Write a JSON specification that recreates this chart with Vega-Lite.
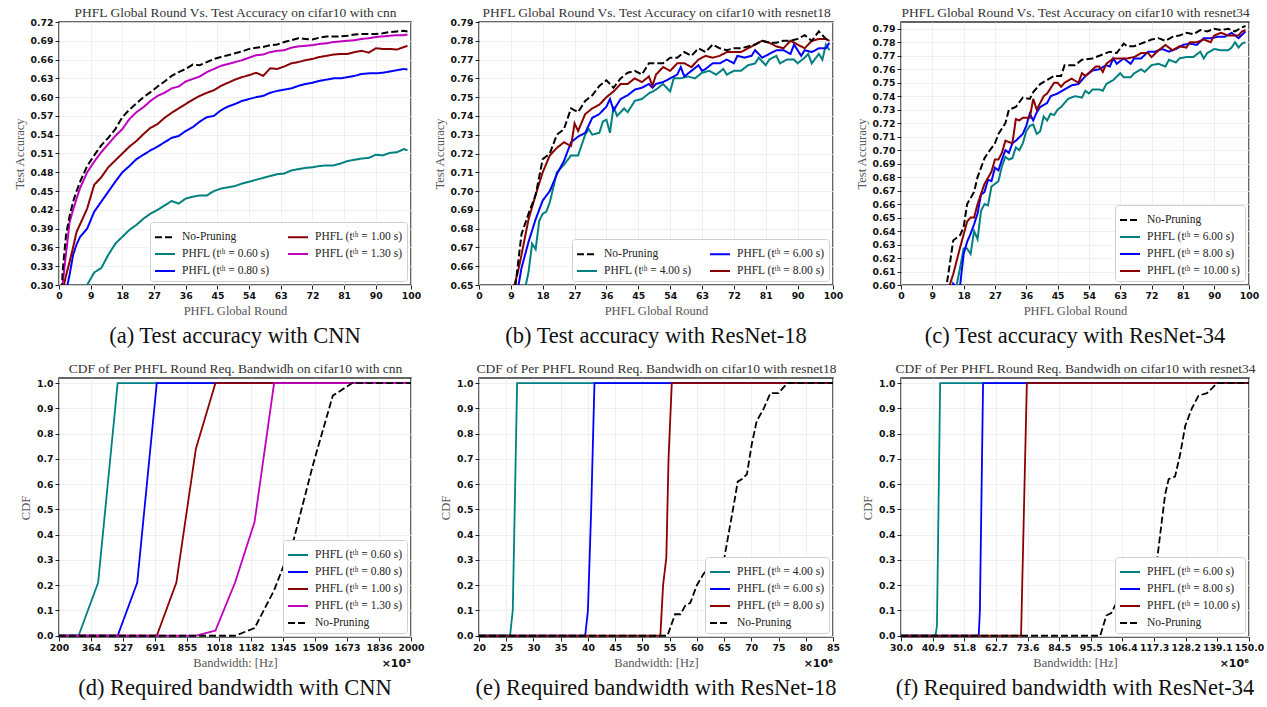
{
"$schema": "https://vega.github.io/schema/vega-lite/v6.json",
"padding": {"left": 12, "top": 4, "right": 5, "bottom": 2},
"columns": 3,
"bounds": "flush",
"spacing": {"row": 93, "column": 68},
"resolve": {"scale": {"color": "independent", "strokeDash": "independent"}, "legend": {"color": "independent", "strokeDash": "independent"}},
"config": {
 "view": {"stroke": "#333", "strokeWidth": 1.5},
 "axis": {"labelFont": "DejaVu Sans", "labelFontWeight": "bold", "labelFontSize": 9.3, "labelColor": "#111", "labelPadding": 2, "tickColor": "#222", "tickSize": 4, "tickWidth": 1, "domain": false, "grid": true, "gridColor": "#ececec", "gridWidth": 0.8, "titleFont": "Liberation Serif", "titleFontWeight": "normal", "titleFontSize": 12.5, "titleColor": "#555", "titlePadding": 4, "labelOverlap": false, "labelFlush": false, "labelBound": false},
 "legend": {"labelFont": "Liberation Serif", "labelFontSize": 11.5, "labelColor": "#222", "symbolType": "stroke", "symbolSize": 400, "symbolStrokeWidth": 2, "fillColor": "white", "strokeColor": "#d0d0d0", "padding": 4, "cornerRadius": 3, "rowPadding": -5, "columnPadding": 14, "labelOffset": 6, "offset": 4},
 "title": {"font": "Liberation Serif", "fontSize": 22.5, "fontWeight": "normal", "color": "#111", "orient": "bottom", "offset": 8, "anchor": "middle"}
},
"datasets": {
 "a": [
  {"s":"0.60","r":0,"v":0.10},{"s":"0.60","r":1,"v":0.15},{"s":"0.60","r":2,"v":0.18},{"s":"0.60","r":3,"v":0.21},{"s":"0.60","r":4,"v":0.23},{"s":"0.60","r":5,"v":0.25},{"s":"0.60","r":6,"v":0.27},{"s":"0.60","r":8,"v":0.30},{"s":"0.60","r":10,"v":0.320},{"s":"0.60","r":12,"v":0.327},{"s":"0.60","r":14,"v":0.348},{"s":"0.60","r":16,"v":0.366},{"s":"0.60","r":18,"v":0.377},{"s":"0.60","r":20,"v":0.388},{"s":"0.60","r":22,"v":0.396},{"s":"0.60","r":24,"v":0.406},{"s":"0.60","r":26,"v":0.414},{"s":"0.60","r":28,"v":0.420},{"s":"0.60","r":30,"v":0.427},{"s":"0.60","r":32,"v":0.434},{"s":"0.60","r":34,"v":0.430},{"s":"0.60","r":36,"v":0.438},{"s":"0.60","r":38,"v":0.441},{"s":"0.60","r":40,"v":0.443},{"s":"0.60","r":42,"v":0.443},{"s":"0.60","r":44,"v":0.450},{"s":"0.60","r":46,"v":0.454},{"s":"0.60","r":48,"v":0.456},{"s":"0.60","r":50,"v":0.458},{"s":"0.60","r":52,"v":0.462},{"s":"0.60","r":54,"v":0.465},{"s":"0.60","r":56,"v":0.468},{"s":"0.60","r":58,"v":0.471},{"s":"0.60","r":60,"v":0.474},{"s":"0.60","r":62,"v":0.477},{"s":"0.60","r":64,"v":0.478},{"s":"0.60","r":66,"v":0.483},{"s":"0.60","r":68,"v":0.485},{"s":"0.60","r":70,"v":0.487},{"s":"0.60","r":72,"v":0.488},{"s":"0.60","r":74,"v":0.490},{"s":"0.60","r":76,"v":0.491},{"s":"0.60","r":78,"v":0.491},{"s":"0.60","r":80,"v":0.494},{"s":"0.60","r":82,"v":0.498},{"s":"0.60","r":84,"v":0.500},{"s":"0.60","r":86,"v":0.502},{"s":"0.60","r":88,"v":0.503},{"s":"0.60","r":90,"v":0.508},{"s":"0.60","r":92,"v":0.507},{"s":"0.60","r":94,"v":0.511},{"s":"0.60","r":96,"v":0.512},{"s":"0.60","r":98,"v":0.517},{"s":"0.60","r":99,"v":0.515},
  {"s":"0.80","r":0,"v":0.10},{"s":"0.80","r":1,"v":0.22},{"s":"0.80","r":2,"v":0.29},{"s":"0.80","r":3,"v":0.316},{"s":"0.80","r":4,"v":0.348},{"s":"0.80","r":5,"v":0.365},{"s":"0.80","r":6,"v":0.377},{"s":"0.80","r":8,"v":0.390},{"s":"0.80","r":10,"v":0.417},{"s":"0.80","r":12,"v":0.433},{"s":"0.80","r":14,"v":0.449},{"s":"0.80","r":16,"v":0.465},{"s":"0.80","r":18,"v":0.480},{"s":"0.80","r":20,"v":0.490},{"s":"0.80","r":22,"v":0.501},{"s":"0.80","r":24,"v":0.508},{"s":"0.80","r":26,"v":0.515},{"s":"0.80","r":28,"v":0.521},{"s":"0.80","r":30,"v":0.528},{"s":"0.80","r":32,"v":0.535},{"s":"0.80","r":34,"v":0.538},{"s":"0.80","r":36,"v":0.546},{"s":"0.80","r":38,"v":0.552},{"s":"0.80","r":40,"v":0.561},{"s":"0.80","r":42,"v":0.568},{"s":"0.80","r":44,"v":0.570},{"s":"0.80","r":46,"v":0.579},{"s":"0.80","r":48,"v":0.585},{"s":"0.80","r":50,"v":0.589},{"s":"0.80","r":52,"v":0.594},{"s":"0.80","r":54,"v":0.597},{"s":"0.80","r":56,"v":0.600},{"s":"0.80","r":58,"v":0.602},{"s":"0.80","r":60,"v":0.607},{"s":"0.80","r":62,"v":0.610},{"s":"0.80","r":64,"v":0.612},{"s":"0.80","r":66,"v":0.614},{"s":"0.80","r":68,"v":0.618},{"s":"0.80","r":70,"v":0.621},{"s":"0.80","r":72,"v":0.623},{"s":"0.80","r":74,"v":0.626},{"s":"0.80","r":76,"v":0.628},{"s":"0.80","r":78,"v":0.630},{"s":"0.80","r":80,"v":0.630},{"s":"0.80","r":82,"v":0.632},{"s":"0.80","r":84,"v":0.634},{"s":"0.80","r":86,"v":0.637},{"s":"0.80","r":88,"v":0.638},{"s":"0.80","r":90,"v":0.638},{"s":"0.80","r":92,"v":0.639},{"s":"0.80","r":94,"v":0.641},{"s":"0.80","r":96,"v":0.643},{"s":"0.80","r":98,"v":0.645},{"s":"0.80","r":99,"v":0.644},
  {"s":"1.00","r":0,"v":0.10},{"s":"1.00","r":1,"v":0.29},{"s":"1.00","r":2,"v":0.315},{"s":"1.00","r":3,"v":0.337},{"s":"1.00","r":4,"v":0.36},{"s":"1.00","r":5,"v":0.385},{"s":"1.00","r":6,"v":0.397},{"s":"1.00","r":8,"v":0.422},{"s":"1.00","r":10,"v":0.46},{"s":"1.00","r":12,"v":0.472},{"s":"1.00","r":14,"v":0.488},{"s":"1.00","r":16,"v":0.499},{"s":"1.00","r":18,"v":0.510},{"s":"1.00","r":20,"v":0.521},{"s":"1.00","r":22,"v":0.530},{"s":"1.00","r":24,"v":0.541},{"s":"1.00","r":26,"v":0.551},{"s":"1.00","r":28,"v":0.557},{"s":"1.00","r":30,"v":0.567},{"s":"1.00","r":32,"v":0.575},{"s":"1.00","r":34,"v":0.582},{"s":"1.00","r":36,"v":0.589},{"s":"1.00","r":38,"v":0.596},{"s":"1.00","r":40,"v":0.602},{"s":"1.00","r":42,"v":0.607},{"s":"1.00","r":44,"v":0.611},{"s":"1.00","r":46,"v":0.618},{"s":"1.00","r":48,"v":0.623},{"s":"1.00","r":50,"v":0.628},{"s":"1.00","r":52,"v":0.632},{"s":"1.00","r":54,"v":0.635},{"s":"1.00","r":56,"v":0.639},{"s":"1.00","r":58,"v":0.634},{"s":"1.00","r":60,"v":0.646},{"s":"1.00","r":62,"v":0.645},{"s":"1.00","r":64,"v":0.649},{"s":"1.00","r":66,"v":0.654},{"s":"1.00","r":68,"v":0.656},{"s":"1.00","r":70,"v":0.659},{"s":"1.00","r":72,"v":0.661},{"s":"1.00","r":74,"v":0.664},{"s":"1.00","r":76,"v":0.666},{"s":"1.00","r":78,"v":0.668},{"s":"1.00","r":80,"v":0.669},{"s":"1.00","r":82,"v":0.669},{"s":"1.00","r":84,"v":0.672},{"s":"1.00","r":86,"v":0.674},{"s":"1.00","r":88,"v":0.671},{"s":"1.00","r":90,"v":0.678},{"s":"1.00","r":92,"v":0.677},{"s":"1.00","r":94,"v":0.677},{"s":"1.00","r":96,"v":0.676},{"s":"1.00","r":98,"v":0.680},{"s":"1.00","r":99,"v":0.682},
  {"s":"1.30","r":0,"v":0.10},{"s":"1.30","r":1,"v":0.30},{"s":"1.30","r":2,"v":0.35},{"s":"1.30","r":3,"v":0.40},{"s":"1.30","r":4,"v":0.42},{"s":"1.30","r":5,"v":0.438},{"s":"1.30","r":6,"v":0.455},{"s":"1.30","r":8,"v":0.48},{"s":"1.30","r":10,"v":0.497},{"s":"1.30","r":12,"v":0.512},{"s":"1.30","r":14,"v":0.525},{"s":"1.30","r":16,"v":0.538},{"s":"1.30","r":18,"v":0.549},{"s":"1.30","r":20,"v":0.565},{"s":"1.30","r":22,"v":0.576},{"s":"1.30","r":24,"v":0.584},{"s":"1.30","r":26,"v":0.594},{"s":"1.30","r":28,"v":0.602},{"s":"1.30","r":30,"v":0.607},{"s":"1.30","r":32,"v":0.614},{"s":"1.30","r":34,"v":0.617},{"s":"1.30","r":36,"v":0.625},{"s":"1.30","r":38,"v":0.629},{"s":"1.30","r":40,"v":0.633},{"s":"1.30","r":42,"v":0.640},{"s":"1.30","r":44,"v":0.645},{"s":"1.30","r":46,"v":0.650},{"s":"1.30","r":48,"v":0.653},{"s":"1.30","r":50,"v":0.656},{"s":"1.30","r":52,"v":0.659},{"s":"1.30","r":54,"v":0.663},{"s":"1.30","r":56,"v":0.667},{"s":"1.30","r":58,"v":0.668},{"s":"1.30","r":60,"v":0.672},{"s":"1.30","r":62,"v":0.674},{"s":"1.30","r":64,"v":0.675},{"s":"1.30","r":66,"v":0.679},{"s":"1.30","r":68,"v":0.681},{"s":"1.30","r":70,"v":0.682},{"s":"1.30","r":72,"v":0.683},{"s":"1.30","r":74,"v":0.685},{"s":"1.30","r":76,"v":0.686},{"s":"1.30","r":78,"v":0.688},{"s":"1.30","r":80,"v":0.689},{"s":"1.30","r":82,"v":0.690},{"s":"1.30","r":84,"v":0.691},{"s":"1.30","r":86,"v":0.693},{"s":"1.30","r":88,"v":0.694},{"s":"1.30","r":90,"v":0.696},{"s":"1.30","r":92,"v":0.697},{"s":"1.30","r":94,"v":0.698},{"s":"1.30","r":96,"v":0.699},{"s":"1.30","r":98,"v":0.699},{"s":"1.30","r":99,"v":0.700},
  {"s":"N","r":0,"v":0.10},{"s":"N","r":1,"v":0.32},{"s":"N","r":2,"v":0.38},{"s":"N","r":3,"v":0.41},{"s":"N","r":4,"v":0.433},{"s":"N","r":5,"v":0.45},{"s":"N","r":6,"v":0.465},{"s":"N","r":8,"v":0.49},{"s":"N","r":10,"v":0.507},{"s":"N","r":12,"v":0.523},{"s":"N","r":14,"v":0.535},{"s":"N","r":16,"v":0.549},{"s":"N","r":18,"v":0.568},{"s":"N","r":20,"v":0.580},{"s":"N","r":22,"v":0.590},{"s":"N","r":24,"v":0.600},{"s":"N","r":26,"v":0.608},{"s":"N","r":28,"v":0.617},{"s":"N","r":30,"v":0.625},{"s":"N","r":32,"v":0.634},{"s":"N","r":34,"v":0.640},{"s":"N","r":36,"v":0.645},{"s":"N","r":38,"v":0.652},{"s":"N","r":40,"v":0.651},{"s":"N","r":42,"v":0.656},{"s":"N","r":44,"v":0.661},{"s":"N","r":46,"v":0.664},{"s":"N","r":48,"v":0.667},{"s":"N","r":50,"v":0.670},{"s":"N","r":52,"v":0.673},{"s":"N","r":54,"v":0.677},{"s":"N","r":56,"v":0.679},{"s":"N","r":58,"v":0.680},{"s":"N","r":60,"v":0.683},{"s":"N","r":62,"v":0.684},{"s":"N","r":64,"v":0.688},{"s":"N","r":66,"v":0.691},{"s":"N","r":68,"v":0.694},{"s":"N","r":70,"v":0.693},{"s":"N","r":72,"v":0.692},{"s":"N","r":74,"v":0.695},{"s":"N","r":76,"v":0.697},{"s":"N","r":78,"v":0.697},{"s":"N","r":80,"v":0.697},{"s":"N","r":82,"v":0.698},{"s":"N","r":84,"v":0.700},{"s":"N","r":86,"v":0.701},{"s":"N","r":88,"v":0.701},{"s":"N","r":90,"v":0.701},{"s":"N","r":92,"v":0.702},{"s":"N","r":94,"v":0.704},{"s":"N","r":96,"v":0.705},{"s":"N","r":98,"v":0.706},{"s":"N","r":99,"v":0.705}
 ],
 "b": [
  {"s":"4.00","r":0,"v":0.36},{"s":"4.00","r":5,"v":0.50},{"s":"4.00","r":8,"v":0.58},{"s":"4.00","r":10,"v":0.615},{"s":"4.00","r":12,"v":0.638},{"s":"4.00","r":13,"v":0.648},{"s":"4.00","r":14,"v":0.657},{"s":"4.00","r":15,"v":0.672},{"s":"4.00","r":16,"v":0.669},{"s":"4.00","r":17,"v":0.684},{"s":"4.00","r":18,"v":0.688},{"s":"4.00","r":19,"v":0.689},{"s":"4.00","r":20,"v":0.694},{"s":"4.00","r":22,"v":0.710},{"s":"4.00","r":24,"v":0.714},{"s":"4.00","r":26,"v":0.719},{"s":"4.00","r":28,"v":0.719},{"s":"4.00","r":30,"v":0.730},{"s":"4.00","r":31,"v":0.733},{"s":"4.00","r":32,"v":0.730},{"s":"4.00","r":34,"v":0.731},{"s":"4.00","r":35,"v":0.737},{"s":"4.00","r":36,"v":0.738},{"s":"4.00","r":37,"v":0.731},{"s":"4.00","r":38,"v":0.745},{"s":"4.00","r":39,"v":0.740},{"s":"4.00","r":41,"v":0.744},{"s":"4.00","r":42,"v":0.742},{"s":"4.00","r":44,"v":0.748},{"s":"4.00","r":46,"v":0.749},{"s":"4.00","r":48,"v":0.752},{"s":"4.00","r":50,"v":0.754},{"s":"4.00","r":52,"v":0.757},{"s":"4.00","r":54,"v":0.753},{"s":"4.00","r":55,"v":0.760},{"s":"4.00","r":57,"v":0.760},{"s":"4.00","r":59,"v":0.761},{"s":"4.00","r":61,"v":0.760},{"s":"4.00","r":63,"v":0.763},{"s":"4.00","r":65,"v":0.764},{"s":"4.00","r":67,"v":0.762},{"s":"4.00","r":69,"v":0.765},{"s":"4.00","r":70,"v":0.762},{"s":"4.00","r":72,"v":0.764},{"s":"4.00","r":74,"v":0.764},{"s":"4.00","r":76,"v":0.767},{"s":"4.00","r":78,"v":0.768},{"s":"4.00","r":79,"v":0.771},{"s":"4.00","r":81,"v":0.767},{"s":"4.00","r":82,"v":0.770},{"s":"4.00","r":84,"v":0.772},{"s":"4.00","r":85,"v":0.768},{"s":"4.00","r":87,"v":0.770},{"s":"4.00","r":89,"v":0.770},{"s":"4.00","r":90,"v":0.768},{"s":"4.00","r":92,"v":0.771},{"s":"4.00","r":93,"v":0.773},{"s":"4.00","r":94,"v":0.768},{"s":"4.00","r":96,"v":0.773},{"s":"4.00","r":97,"v":0.770},{"s":"4.00","r":98,"v":0.778},{"s":"4.00","r":99,"v":0.775},
  {"s":"6.00","r":0,"v":0.38},{"s":"6.00","r":5,"v":0.53},{"s":"6.00","r":8,"v":0.60},{"s":"6.00","r":10,"v":0.635},{"s":"6.00","r":11,"v":0.648},{"s":"6.00","r":12,"v":0.659},{"s":"6.00","r":14,"v":0.673},{"s":"6.00","r":16,"v":0.685},{"s":"6.00","r":18,"v":0.695},{"s":"6.00","r":20,"v":0.700},{"s":"6.00","r":22,"v":0.709},{"s":"6.00","r":24,"v":0.716},{"s":"6.00","r":26,"v":0.726},{"s":"6.00","r":28,"v":0.729},{"s":"6.00","r":30,"v":0.731},{"s":"6.00","r":32,"v":0.739},{"s":"6.00","r":34,"v":0.741},{"s":"6.00","r":36,"v":0.745},{"s":"6.00","r":37,"v":0.749},{"s":"6.00","r":38,"v":0.743},{"s":"6.00","r":40,"v":0.749},{"s":"6.00","r":42,"v":0.751},{"s":"6.00","r":44,"v":0.754},{"s":"6.00","r":46,"v":0.755},{"s":"6.00","r":48,"v":0.757},{"s":"6.00","r":49,"v":0.755},{"s":"6.00","r":50,"v":0.757},{"s":"6.00","r":52,"v":0.758},{"s":"6.00","r":54,"v":0.760},{"s":"6.00","r":56,"v":0.762},{"s":"6.00","r":57,"v":0.766},{"s":"6.00","r":58,"v":0.761},{"s":"6.00","r":60,"v":0.764},{"s":"6.00","r":62,"v":0.767},{"s":"6.00","r":63,"v":0.764},{"s":"6.00","r":64,"v":0.765},{"s":"6.00","r":66,"v":0.768},{"s":"6.00","r":68,"v":0.768},{"s":"6.00","r":70,"v":0.770},{"s":"6.00","r":72,"v":0.768},{"s":"6.00","r":73,"v":0.772},{"s":"6.00","r":75,"v":0.771},{"s":"6.00","r":77,"v":0.772},{"s":"6.00","r":78,"v":0.775},{"s":"6.00","r":80,"v":0.771},{"s":"6.00","r":82,"v":0.773},{"s":"6.00","r":84,"v":0.775},{"s":"6.00","r":86,"v":0.775},{"s":"6.00","r":88,"v":0.773},{"s":"6.00","r":89,"v":0.778},{"s":"6.00","r":91,"v":0.772},{"s":"6.00","r":92,"v":0.775},{"s":"6.00","r":94,"v":0.774},{"s":"6.00","r":96,"v":0.776},{"s":"6.00","r":98,"v":0.776},{"s":"6.00","r":99,"v":0.779},
  {"s":"8.00","r":0,"v":0.40},{"s":"8.00","r":5,"v":0.55},{"s":"8.00","r":8,"v":0.62},{"s":"8.00","r":10,"v":0.65},{"s":"8.00","r":11,"v":0.657},{"s":"8.00","r":12,"v":0.666},{"s":"8.00","r":14,"v":0.685},{"s":"8.00","r":16,"v":0.698},{"s":"8.00","r":18,"v":0.710},{"s":"8.00","r":20,"v":0.719},{"s":"8.00","r":22,"v":0.723},{"s":"8.00","r":24,"v":0.726},{"s":"8.00","r":26,"v":0.724},{"s":"8.00","r":27,"v":0.736},{"s":"8.00","r":28,"v":0.732},{"s":"8.00","r":30,"v":0.741},{"s":"8.00","r":32,"v":0.744},{"s":"8.00","r":34,"v":0.746},{"s":"8.00","r":36,"v":0.750},{"s":"8.00","r":38,"v":0.753},{"s":"8.00","r":40,"v":0.757},{"s":"8.00","r":42,"v":0.757},{"s":"8.00","r":44,"v":0.760},{"s":"8.00","r":46,"v":0.758},{"s":"8.00","r":48,"v":0.761},{"s":"8.00","r":49,"v":0.756},{"s":"8.00","r":50,"v":0.762},{"s":"8.00","r":52,"v":0.766},{"s":"8.00","r":54,"v":0.764},{"s":"8.00","r":56,"v":0.768},{"s":"8.00","r":58,"v":0.768},{"s":"8.00","r":60,"v":0.766},{"s":"8.00","r":62,"v":0.770},{"s":"8.00","r":64,"v":0.772},{"s":"8.00","r":66,"v":0.771},{"s":"8.00","r":68,"v":0.772},{"s":"8.00","r":70,"v":0.774},{"s":"8.00","r":72,"v":0.774},{"s":"8.00","r":74,"v":0.774},{"s":"8.00","r":76,"v":0.776},{"s":"8.00","r":78,"v":0.778},{"s":"8.00","r":80,"v":0.780},{"s":"8.00","r":82,"v":0.779},{"s":"8.00","r":84,"v":0.777},{"s":"8.00","r":86,"v":0.776},{"s":"8.00","r":88,"v":0.780},{"s":"8.00","r":90,"v":0.778},{"s":"8.00","r":92,"v":0.776},{"s":"8.00","r":94,"v":0.780},{"s":"8.00","r":96,"v":0.781},{"s":"8.00","r":98,"v":0.781},{"s":"8.00","r":99,"v":0.780},
  {"s":"N","r":0,"v":0.40},{"s":"N","r":5,"v":0.56},{"s":"N","r":8,"v":0.62},{"s":"N","r":10,"v":0.645},{"s":"N","r":12,"v":0.677},{"s":"N","r":14,"v":0.688},{"s":"N","r":16,"v":0.698},{"s":"N","r":18,"v":0.717},{"s":"N","r":20,"v":0.720},{"s":"N","r":22,"v":0.730},{"s":"N","r":24,"v":0.733},{"s":"N","r":26,"v":0.744},{"s":"N","r":28,"v":0.742},{"s":"N","r":30,"v":0.748},{"s":"N","r":32,"v":0.751},{"s":"N","r":34,"v":0.756},{"s":"N","r":36,"v":0.759},{"s":"N","r":38,"v":0.755},{"s":"N","r":40,"v":0.760},{"s":"N","r":42,"v":0.763},{"s":"N","r":44,"v":0.764},{"s":"N","r":46,"v":0.762},{"s":"N","r":48,"v":0.768},{"s":"N","r":50,"v":0.768},{"s":"N","r":52,"v":0.768},{"s":"N","r":54,"v":0.771},{"s":"N","r":56,"v":0.771},{"s":"N","r":58,"v":0.774},{"s":"N","r":60,"v":0.772},{"s":"N","r":62,"v":0.776},{"s":"N","r":64,"v":0.774},{"s":"N","r":66,"v":0.778},{"s":"N","r":68,"v":0.776},{"s":"N","r":70,"v":0.775},{"s":"N","r":72,"v":0.776},{"s":"N","r":74,"v":0.776},{"s":"N","r":76,"v":0.777},{"s":"N","r":78,"v":0.778},{"s":"N","r":80,"v":0.780},{"s":"N","r":82,"v":0.779},{"s":"N","r":84,"v":0.779},{"s":"N","r":86,"v":0.780},{"s":"N","r":88,"v":0.780},{"s":"N","r":90,"v":0.781},{"s":"N","r":92,"v":0.783},{"s":"N","r":94,"v":0.780},{"s":"N","r":96,"v":0.785},{"s":"N","r":98,"v":0.781},{"s":"N","r":99,"v":0.780}
 ],
 "c": [
  {"s":"6.00","r":0,"v":0.25},{"s":"6.00","r":5,"v":0.37},{"s":"6.00","r":10,"v":0.47},{"s":"6.00","r":14,"v":0.56},{"s":"6.00","r":16,"v":0.60},{"s":"6.00","r":17,"v":0.613},{"s":"6.00","r":18,"v":0.627},{"s":"6.00","r":19,"v":0.627},{"s":"6.00","r":20,"v":0.623},{"s":"6.00","r":21,"v":0.640},{"s":"6.00","r":22,"v":0.634},{"s":"6.00","r":23,"v":0.655},{"s":"6.00","r":24,"v":0.660},{"s":"6.00","r":25,"v":0.659},{"s":"6.00","r":26,"v":0.673},{"s":"6.00","r":28,"v":0.677},{"s":"6.00","r":29,"v":0.688},{"s":"6.00","r":30,"v":0.695},{"s":"6.00","r":31,"v":0.693},{"s":"6.00","r":32,"v":0.694},{"s":"6.00","r":33,"v":0.702},{"s":"6.00","r":34,"v":0.700},{"s":"6.00","r":35,"v":0.705},{"s":"6.00","r":36,"v":0.714},{"s":"6.00","r":37,"v":0.718},{"s":"6.00","r":38,"v":0.719},{"s":"6.00","r":39,"v":0.712},{"s":"6.00","r":40,"v":0.714},{"s":"6.00","r":41,"v":0.725},{"s":"6.00","r":42,"v":0.722},{"s":"6.00","r":43,"v":0.727},{"s":"6.00","r":44,"v":0.726},{"s":"6.00","r":45,"v":0.730},{"s":"6.00","r":46,"v":0.732},{"s":"6.00","r":48,"v":0.738},{"s":"6.00","r":50,"v":0.740},{"s":"6.00","r":52,"v":0.739},{"s":"6.00","r":53,"v":0.744},{"s":"6.00","r":54,"v":0.742},{"s":"6.00","r":55,"v":0.745},{"s":"6.00","r":57,"v":0.745},{"s":"6.00","r":58,"v":0.744},{"s":"6.00","r":59,"v":0.749},{"s":"6.00","r":61,"v":0.752},{"s":"6.00","r":63,"v":0.757},{"s":"6.00","r":64,"v":0.754},{"s":"6.00","r":66,"v":0.754},{"s":"6.00","r":67,"v":0.757},{"s":"6.00","r":69,"v":0.760},{"s":"6.00","r":70,"v":0.758},{"s":"6.00","r":72,"v":0.763},{"s":"6.00","r":74,"v":0.764},{"s":"6.00","r":76,"v":0.762},{"s":"6.00","r":77,"v":0.767},{"s":"6.00","r":79,"v":0.765},{"s":"6.00","r":80,"v":0.768},{"s":"6.00","r":82,"v":0.769},{"s":"6.00","r":84,"v":0.769},{"s":"6.00","r":86,"v":0.773},{"s":"6.00","r":87,"v":0.768},{"s":"6.00","r":88,"v":0.772},{"s":"6.00","r":90,"v":0.775},{"s":"6.00","r":92,"v":0.774},{"s":"6.00","r":94,"v":0.774},{"s":"6.00","r":95,"v":0.776},{"s":"6.00","r":96,"v":0.780},{"s":"6.00","r":97,"v":0.776},{"s":"6.00","r":98,"v":0.779},{"s":"6.00","r":99,"v":0.780},
  {"s":"8.00","r":0,"v":0.26},{"s":"8.00","r":5,"v":0.38},{"s":"8.00","r":10,"v":0.48},{"s":"8.00","r":14,"v":0.57},{"s":"8.00","r":15,"v":0.601},{"s":"8.00","r":16,"v":0.598},{"s":"8.00","r":17,"v":0.600},{"s":"8.00","r":18,"v":0.623},{"s":"8.00","r":19,"v":0.632},{"s":"8.00","r":20,"v":0.638},{"s":"8.00","r":21,"v":0.645},{"s":"8.00","r":22,"v":0.653},{"s":"8.00","r":23,"v":0.667},{"s":"8.00","r":24,"v":0.669},{"s":"8.00","r":25,"v":0.678},{"s":"8.00","r":26,"v":0.677},{"s":"8.00","r":27,"v":0.687},{"s":"8.00","r":28,"v":0.685},{"s":"8.00","r":29,"v":0.693},{"s":"8.00","r":30,"v":0.700},{"s":"8.00","r":31,"v":0.698},{"s":"8.00","r":32,"v":0.705},{"s":"8.00","r":33,"v":0.707},{"s":"8.00","r":35,"v":0.712},{"s":"8.00","r":36,"v":0.718},{"s":"8.00","r":37,"v":0.727},{"s":"8.00","r":38,"v":0.722},{"s":"8.00","r":39,"v":0.728},{"s":"8.00","r":40,"v":0.732},{"s":"8.00","r":42,"v":0.735},{"s":"8.00","r":43,"v":0.740},{"s":"8.00","r":45,"v":0.742},{"s":"8.00","r":47,"v":0.745},{"s":"8.00","r":49,"v":0.748},{"s":"8.00","r":51,"v":0.749},{"s":"8.00","r":53,"v":0.755},{"s":"8.00","r":55,"v":0.759},{"s":"8.00","r":57,"v":0.760},{"s":"8.00","r":59,"v":0.763},{"s":"8.00","r":60,"v":0.762},{"s":"8.00","r":61,"v":0.768},{"s":"8.00","r":62,"v":0.764},{"s":"8.00","r":64,"v":0.768},{"s":"8.00","r":66,"v":0.764},{"s":"8.00","r":67,"v":0.768},{"s":"8.00","r":69,"v":0.768},{"s":"8.00","r":71,"v":0.773},{"s":"8.00","r":73,"v":0.773},{"s":"8.00","r":75,"v":0.775},{"s":"8.00","r":77,"v":0.773},{"s":"8.00","r":79,"v":0.775},{"s":"8.00","r":81,"v":0.778},{"s":"8.00","r":83,"v":0.779},{"s":"8.00","r":85,"v":0.778},{"s":"8.00","r":87,"v":0.783},{"s":"8.00","r":89,"v":0.783},{"s":"8.00","r":91,"v":0.784},{"s":"8.00","r":93,"v":0.784},{"s":"8.00","r":95,"v":0.787},{"s":"8.00","r":97,"v":0.783},{"s":"8.00","r":99,"v":0.788},
  {"s":"10.00","r":0,"v":0.28},{"s":"10.00","r":5,"v":0.40},{"s":"10.00","r":10,"v":0.51},{"s":"10.00","r":13,"v":0.585},{"s":"10.00","r":14,"v":0.600},{"s":"10.00","r":15,"v":0.608},{"s":"10.00","r":17,"v":0.628},{"s":"10.00","r":19,"v":0.647},{"s":"10.00","r":20,"v":0.650},{"s":"10.00","r":21,"v":0.650},{"s":"10.00","r":22,"v":0.660},{"s":"10.00","r":24,"v":0.675},{"s":"10.00","r":26,"v":0.684},{"s":"10.00","r":27,"v":0.693},{"s":"10.00","r":28,"v":0.693},{"s":"10.00","r":29,"v":0.698},{"s":"10.00","r":30,"v":0.707},{"s":"10.00","r":32,"v":0.705},{"s":"10.00","r":33,"v":0.723},{"s":"10.00","r":34,"v":0.722},{"s":"10.00","r":35,"v":0.724},{"s":"10.00","r":37,"v":0.724},{"s":"10.00","r":38,"v":0.738},{"s":"10.00","r":39,"v":0.730},{"s":"10.00","r":41,"v":0.740},{"s":"10.00","r":42,"v":0.742},{"s":"10.00","r":44,"v":0.750},{"s":"10.00","r":45,"v":0.750},{"s":"10.00","r":46,"v":0.747},{"s":"10.00","r":47,"v":0.750},{"s":"10.00","r":49,"v":0.753},{"s":"10.00","r":51,"v":0.750},{"s":"10.00","r":52,"v":0.757},{"s":"10.00","r":53,"v":0.755},{"s":"10.00","r":56,"v":0.762},{"s":"10.00","r":57,"v":0.762},{"s":"10.00","r":58,"v":0.758},{"s":"10.00","r":59,"v":0.764},{"s":"10.00","r":61,"v":0.768},{"s":"10.00","r":63,"v":0.768},{"s":"10.00","r":65,"v":0.768},{"s":"10.00","r":67,"v":0.769},{"s":"10.00","r":69,"v":0.772},{"s":"10.00","r":71,"v":0.772},{"s":"10.00","r":72,"v":0.769},{"s":"10.00","r":74,"v":0.774},{"s":"10.00","r":76,"v":0.778},{"s":"10.00","r":78,"v":0.774},{"s":"10.00","r":80,"v":0.777},{"s":"10.00","r":82,"v":0.776},{"s":"10.00","r":83,"v":0.780},{"s":"10.00","r":85,"v":0.780},{"s":"10.00","r":87,"v":0.782},{"s":"10.00","r":89,"v":0.780},{"s":"10.00","r":90,"v":0.785},{"s":"10.00","r":92,"v":0.787},{"s":"10.00","r":94,"v":0.785},{"s":"10.00","r":96,"v":0.785},{"s":"10.00","r":97,"v":0.785},{"s":"10.00","r":98,"v":0.788},{"s":"10.00","r":99,"v":0.789},
  {"s":"N","r":0,"v":0.30},{"s":"N","r":5,"v":0.42},{"s":"N","r":10,"v":0.53},{"s":"N","r":13,"v":0.598},{"s":"N","r":14,"v":0.615},{"s":"N","r":15,"v":0.633},{"s":"N","r":17,"v":0.637},{"s":"N","r":18,"v":0.643},{"s":"N","r":19,"v":0.660},{"s":"N","r":21,"v":0.669},{"s":"N","r":22,"v":0.680},{"s":"N","r":24,"v":0.694},{"s":"N","r":25,"v":0.698},{"s":"N","r":27,"v":0.705},{"s":"N","r":28,"v":0.712},{"s":"N","r":30,"v":0.720},{"s":"N","r":31,"v":0.730},{"s":"N","r":33,"v":0.732},{"s":"N","r":35,"v":0.739},{"s":"N","r":37,"v":0.738},{"s":"N","r":38,"v":0.743},{"s":"N","r":40,"v":0.749},{"s":"N","r":42,"v":0.752},{"s":"N","r":44,"v":0.755},{"s":"N","r":46,"v":0.755},{"s":"N","r":47,"v":0.763},{"s":"N","r":50,"v":0.763},{"s":"N","r":52,"v":0.767},{"s":"N","r":55,"v":0.768},{"s":"N","r":58,"v":0.771},{"s":"N","r":60,"v":0.773},{"s":"N","r":62,"v":0.772},{"s":"N","r":64,"v":0.779},{"s":"N","r":65,"v":0.777},{"s":"N","r":67,"v":0.777},{"s":"N","r":70,"v":0.780},{"s":"N","r":72,"v":0.782},{"s":"N","r":74,"v":0.783},{"s":"N","r":76,"v":0.781},{"s":"N","r":78,"v":0.784},{"s":"N","r":80,"v":0.785},{"s":"N","r":82,"v":0.787},{"s":"N","r":84,"v":0.786},{"s":"N","r":86,"v":0.789},{"s":"N","r":88,"v":0.788},{"s":"N","r":90,"v":0.790},{"s":"N","r":92,"v":0.789},{"s":"N","r":94,"v":0.790},{"s":"N","r":96,"v":0.788},{"s":"N","r":98,"v":0.791},{"s":"N","r":99,"v":0.792}
 ],
 "d": [
  {"s":"0.60","x":200,"v":0},{"s":"0.60","x":300,"v":0},{"s":"0.60","x":400,"v":0.21},{"s":"0.60","x":500,"v":1},{"s":"0.60","x":2000,"v":1},
  {"s":"0.80","x":200,"v":0},{"s":"0.80","x":500,"v":0},{"s":"0.80","x":600,"v":0.21},{"s":"0.80","x":700,"v":1},{"s":"0.80","x":2000,"v":1},
  {"s":"1.00","x":200,"v":0},{"s":"1.00","x":700,"v":0},{"s":"1.00","x":800,"v":0.21},{"s":"1.00","x":900,"v":0.74},{"s":"1.00","x":1000,"v":1},{"s":"1.00","x":2000,"v":1},
  {"s":"1.30","x":200,"v":0},{"s":"1.30","x":900,"v":0},{"s":"1.30","x":1000,"v":0.02},{"s":"1.30","x":1100,"v":0.21},{"s":"1.30","x":1200,"v":0.45},{"s":"1.30","x":1300,"v":1},{"s":"1.30","x":2000,"v":1},
  {"s":"N","x":200,"v":0},{"s":"N","x":1100,"v":0},{"s":"N","x":1200,"v":0.03},{"s":"N","x":1300,"v":0.18},{"s":"N","x":1400,"v":0.38},{"s":"N","x":1500,"v":0.68},{"s":"N","x":1600,"v":0.95},{"s":"N","x":1700,"v":1},{"s":"N","x":2000,"v":1}
 ],
 "e": [
  {"s":"4.00","x":20,"v":0},{"s":"4.00","x":25.7,"v":0},{"s":"4.00","x":26.2,"v":0.1},{"s":"4.00","x":27.0,"v":1},{"s":"4.00","x":85,"v":1},
  {"s":"6.00","x":20,"v":0},{"s":"6.00","x":39.5,"v":0},{"s":"6.00","x":40.0,"v":0.1},{"s":"6.00","x":40.6,"v":0.5},{"s":"6.00","x":41.2,"v":1},{"s":"6.00","x":85,"v":1},
  {"s":"8.00","x":20,"v":0},{"s":"8.00","x":53.3,"v":0},{"s":"8.00","x":53.8,"v":0.2},{"s":"8.00","x":54.4,"v":0.31},{"s":"8.00","x":54.8,"v":0.7},{"s":"8.00","x":55.4,"v":1},{"s":"8.00","x":85,"v":1},
  {"s":"N","x":20,"v":0},{"s":"N","x":54.6,"v":0},{"s":"N","x":56.0,"v":0.085},{"s":"N","x":57.0,"v":0.085},{"s":"N","x":57.9,"v":0.12},{"s":"N","x":58.8,"v":0.13},{"s":"N","x":60.0,"v":0.2},{"s":"N","x":61.1,"v":0.24},{"s":"N","x":62.2,"v":0.275},{"s":"N","x":63.4,"v":0.29},{"s":"N","x":64.9,"v":0.29},{"s":"N","x":65.8,"v":0.4},{"s":"N","x":66.8,"v":0.52},{"s":"N","x":67.5,"v":0.61},{"s":"N","x":68.3,"v":0.62},{"s":"N","x":69.2,"v":0.64},{"s":"N","x":70.1,"v":0.76},{"s":"N","x":71.0,"v":0.85},{"s":"N","x":72.3,"v":0.9},{"s":"N","x":73.5,"v":0.96},{"s":"N","x":75.0,"v":0.96},{"s":"N","x":75.8,"v":0.98},{"s":"N","x":76.7,"v":1},{"s":"N","x":85,"v":1}
 ],
 "f": [
  {"s":"6.00","x":30,"v":0},{"s":"6.00","x":41.9,"v":0},{"s":"6.00","x":42.4,"v":0.04},{"s":"6.00","x":43.5,"v":1},{"s":"6.00","x":150,"v":1},
  {"s":"8.00","x":30,"v":0},{"s":"8.00","x":56.8,"v":0},{"s":"8.00","x":57.2,"v":0.1},{"s":"8.00","x":58.3,"v":1},{"s":"8.00","x":150,"v":1},
  {"s":"10.00","x":30,"v":0},{"s":"10.00","x":71.4,"v":0},{"s":"10.00","x":73.4,"v":1},{"s":"10.00","x":150,"v":1},
  {"s":"N","x":30,"v":0},{"s":"N","x":98.7,"v":0},{"s":"N","x":100.8,"v":0.08},{"s":"N","x":102.5,"v":0.09},{"s":"N","x":104.3,"v":0.13},{"s":"N","x":106.0,"v":0.13},{"s":"N","x":107.8,"v":0.19},{"s":"N","x":111.2,"v":0.23},{"s":"N","x":113.5,"v":0.28},{"s":"N","x":115.3,"v":0.29},{"s":"N","x":118.2,"v":0.29},{"s":"N","x":120.0,"v":0.46},{"s":"N","x":121.1,"v":0.56},{"s":"N","x":122.3,"v":0.62},{"s":"N","x":124.5,"v":0.63},{"s":"N","x":126.3,"v":0.72},{"s":"N","x":128.0,"v":0.83},{"s":"N","x":130.3,"v":0.9},{"s":"N","x":132.6,"v":0.95},{"s":"N","x":135.5,"v":0.96},{"s":"N","x":137.3,"v":0.98},{"s":"N","x":139.0,"v":1},{"s":"N","x":150,"v":1}
 ]
},
"concat": [
 {"width": 352, "height": 263, "title": {"text": "(a) Test accuracy with CNN"},
  "layer": [
   {"data": {"name": "a"}, "mark": {"type": "line", "strokeWidth": 2, "clip": true},
    "encoding": {
     "x": {"field": "r", "type": "quantitative", "scale": {"domain": [0, 100], "nice": false, "zero": false}, "axis": {"orient": "bottom", "values": [0,9,18,27,36,45,54,63,72,81,90,100], "format": "d", "title": "PHFL Global Round"}},
     "y": {"field": "v", "type": "quantitative", "scale": {"domain": [0.3, 0.72], "nice": false, "zero": false}, "axis": {"values": [0.3,0.33,0.36,0.39,0.42,0.45,0.48,0.51,0.54,0.57,0.6,0.63,0.66,0.69,0.72], "format": ".2f", "title": "Test Accuracy"}},
     "color": {"field": "s", "type": "nominal", "scale": {"domain": ["N","0.60","0.80","1.00","1.30"], "range": ["#000000","#008080","#0000ff","#8b0000","#bf00bf"]}, "legend": {"title": null, "orient": "bottom-right", "columns": 2, "labelExpr": "datum.value == 'N' ? 'No-Pruning' : 'PHFL (tᵗʰ = ' + datum.value + ' s)'"}},
     "strokeDash": {"field": "s", "type": "nominal", "scale": {"domain": ["N","0.60","0.80","1.00","1.30"], "range": [[7,3],[1,0],[1,0],[1,0],[1,0]]}, "legend": {"title": null, "orient": "bottom-right", "columns": 2, "labelExpr": "datum.value == 'N' ? 'No-Pruning' : 'PHFL (tᵗʰ = ' + datum.value + ' s)'"}}
    }},
   {"data": {"values": [{"r": 50}]}, "mark": {"type": "point", "opacity": 0},
    "encoding": {"x": {"field": "r", "type": "quantitative", "scale": {"domain": [0, 100], "nice": false, "zero": false}, "axis": {"orient": "top", "title": "PHFL Global Round Vs. Test Accuracy on cifar10 with cnn", "labels": false, "ticks": false, "grid": false, "domain": false, "titleFontSize": 13.5, "titleColor": "#333", "titlePadding": 3}}}}
  ],
  "resolve": {"axis": {"x": "independent"}}},
 {"width": 354, "height": 263, "title": {"text": "(b) Test accuracy with ResNet-18"},
  "layer": [
   {"data": {"name": "b"}, "mark": {"type": "line", "strokeWidth": 2, "clip": true},
    "encoding": {
     "x": {"field": "r", "type": "quantitative", "scale": {"domain": [0, 100], "nice": false, "zero": false}, "axis": {"orient": "bottom", "values": [0,9,18,27,36,45,54,63,72,81,90,100], "format": "d", "title": "PHFL Global Round"}},
     "y": {"field": "v", "type": "quantitative", "scale": {"domain": [0.65, 0.79], "nice": false, "zero": false}, "axis": {"values": [0.65,0.66,0.67,0.68,0.69,0.7,0.71,0.72,0.73,0.74,0.75,0.76,0.77,0.78,0.79], "format": ".2f", "title": "Test Accuracy"}},
     "color": {"field": "s", "type": "nominal", "scale": {"domain": ["N","4.00","6.00","8.00"], "range": ["#000000","#008080","#0000ff","#8b0000"]}, "legend": {"title": null, "orient": "bottom-right", "columns": 2, "labelExpr": "datum.value == 'N' ? 'No-Pruning' : 'PHFL (tᵗʰ = ' + datum.value + ' s)'"}},
     "strokeDash": {"field": "s", "type": "nominal", "scale": {"domain": ["N","4.00","6.00","8.00"], "range": [[7,3],[1,0],[1,0],[1,0]]}, "legend": {"title": null, "orient": "bottom-right", "columns": 2, "labelExpr": "datum.value == 'N' ? 'No-Pruning' : 'PHFL (tᵗʰ = ' + datum.value + ' s)'"}}
    }},
   {"data": {"values": [{"r": 50}]}, "mark": {"type": "point", "opacity": 0},
    "encoding": {"x": {"field": "r", "type": "quantitative", "scale": {"domain": [0, 100], "nice": false, "zero": false}, "axis": {"orient": "top", "title": "PHFL Global Round Vs. Test Accuracy on cifar10 with resnet18", "labels": false, "ticks": false, "grid": false, "domain": false, "titleFontSize": 13.5, "titleColor": "#333", "titlePadding": 3}}}}
  ],
  "resolve": {"axis": {"x": "independent"}}},
 {"width": 348, "height": 263, "title": {"text": "(c) Test accuracy with ResNet-34"},
  "layer": [
   {"data": {"name": "c"}, "mark": {"type": "line", "strokeWidth": 2, "clip": true},
    "encoding": {
     "x": {"field": "r", "type": "quantitative", "scale": {"domain": [0, 100], "nice": false, "zero": false}, "axis": {"orient": "bottom", "values": [0,9,18,27,36,45,54,63,72,81,90,100], "format": "d", "title": "PHFL Global Round"}},
     "y": {"field": "v", "type": "quantitative", "scale": {"domain": [0.6, 0.795], "nice": false, "zero": false}, "axis": {"values": [0.6,0.61,0.62,0.63,0.64,0.65,0.66,0.67,0.68,0.69,0.7,0.71,0.72,0.73,0.74,0.75,0.76,0.77,0.78,0.79], "format": ".2f", "title": "Test Accuracy"}},
     "color": {"field": "s", "type": "nominal", "scale": {"domain": ["N","6.00","8.00","10.00"], "range": ["#000000","#008080","#0000ff","#8b0000"]}, "legend": {"title": null, "orient": "bottom-right", "labelExpr": "datum.value == 'N' ? 'No-Pruning' : 'PHFL (tᵗʰ = ' + datum.value + ' s)'"}},
     "strokeDash": {"field": "s", "type": "nominal", "scale": {"domain": ["N","6.00","8.00","10.00"], "range": [[7,3],[1,0],[1,0],[1,0]]}, "legend": {"title": null, "orient": "bottom-right", "labelExpr": "datum.value == 'N' ? 'No-Pruning' : 'PHFL (tᵗʰ = ' + datum.value + ' s)'"}}
    }},
   {"data": {"values": [{"r": 50}]}, "mark": {"type": "point", "opacity": 0},
    "encoding": {"x": {"field": "r", "type": "quantitative", "scale": {"domain": [0, 100], "nice": false, "zero": false}, "axis": {"orient": "top", "title": "PHFL Global Round Vs. Test Accuracy on cifar10 with resnet34", "labels": false, "ticks": false, "grid": false, "domain": false, "titleFontSize": 13.5, "titleColor": "#333", "titlePadding": 3}}}}
  ],
  "resolve": {"axis": {"x": "independent"}}},
 {"width": 352, "height": 259, "title": {"text": "(d) Required bandwidth with CNN"},
  "layer": [
   {"data": {"name": "d"}, "mark": {"type": "line", "strokeWidth": 1.8, "clip": true},
    "encoding": {
     "x": {"field": "x", "type": "quantitative", "scale": {"domain": [200, 2000], "nice": false, "zero": false}, "axis": {"orient": "bottom", "values": [200,363.64,527.27,690.91,854.55,1018.18,1181.82,1345.45,1509.09,1672.73,1836.36,2000], "format": ".0f", "title": "Bandwidth: [Hz]"}},
     "y": {"field": "v", "type": "quantitative", "scale": {"domain": [-0.005, 1.02], "nice": false, "zero": false}, "axis": {"values": [0,0.1,0.2,0.3,0.4,0.5,0.6,0.7,0.8,0.9,1.0], "format": ".1f", "title": "CDF"}},
     "color": {"field": "s", "type": "nominal", "scale": {"domain": ["0.60","0.80","1.00","1.30","N"], "range": ["#008080","#0000ff","#8b0000","#bf00bf","#000000"]}, "legend": {"title": null, "orient": "bottom-right", "labelExpr": "datum.value == 'N' ? 'No-Pruning' : 'PHFL (tᵗʰ = ' + datum.value + ' s)'"}},
     "strokeDash": {"field": "s", "type": "nominal", "scale": {"domain": ["0.60","0.80","1.00","1.30","N"], "range": [[1,0],[1,0],[1,0],[1,0],[7,3]]}, "legend": {"title": null, "orient": "bottom-right", "labelExpr": "datum.value == 'N' ? 'No-Pruning' : 'PHFL (tᵗʰ = ' + datum.value + ' s)'"}}
    }},
   {"data": {"values": [{"x": 1100}]}, "mark": {"type": "point", "opacity": 0},
    "encoding": {"x": {"field": "x", "type": "quantitative", "scale": {"domain": [200, 2000], "nice": false, "zero": false}, "axis": {"orient": "top", "title": "CDF of Per PHFL Round Req. Bandwidh on cifar10 with cnn", "labels": false, "ticks": false, "grid": false, "domain": false, "titleFontSize": 13.5, "titleColor": "#333", "titlePadding": 3}}}},
   {"data": {"values": [{"t": "×10³"}]}, "mark": {"type": "text", "align": "right", "baseline": "top", "dy": 21, "font": "DejaVu Sans", "fontWeight": "bold", "fontSize": 11, "color": "#111"},
    "encoding": {"x": {"datum": 2000, "type": "quantitative", "axis": null}, "y": {"datum": -0.005, "type": "quantitative", "axis": null}, "text": {"field": "t"}}}
  ],
  "resolve": {"axis": {"x": "independent", "y": "independent"}}},
 {"width": 354, "height": 259, "title": {"text": "(e) Required bandwidth with ResNet-18"},
  "layer": [
   {"data": {"name": "e"}, "mark": {"type": "line", "strokeWidth": 1.8, "clip": true},
    "encoding": {
     "x": {"field": "x", "type": "quantitative", "scale": {"domain": [20, 85], "nice": false, "zero": false}, "axis": {"orient": "bottom", "values": [20,25,30,35,40,45,50,55,60,65,70,75,80,85], "format": "d", "title": "Bandwidth: [Hz]"}},
     "y": {"field": "v", "type": "quantitative", "scale": {"domain": [-0.005, 1.02], "nice": false, "zero": false}, "axis": {"values": [0,0.1,0.2,0.3,0.4,0.5,0.6,0.7,0.8,0.9,1.0], "format": ".1f", "title": "CDF"}},
     "color": {"field": "s", "type": "nominal", "scale": {"domain": ["4.00","6.00","8.00","N"], "range": ["#008080","#0000ff","#8b0000","#000000"]}, "legend": {"title": null, "orient": "bottom-right", "labelExpr": "datum.value == 'N' ? 'No-Pruning' : 'PHFL (tᵗʰ = ' + datum.value + ' s)'"}},
     "strokeDash": {"field": "s", "type": "nominal", "scale": {"domain": ["4.00","6.00","8.00","N"], "range": [[1,0],[1,0],[1,0],[7,3]]}, "legend": {"title": null, "orient": "bottom-right", "labelExpr": "datum.value == 'N' ? 'No-Pruning' : 'PHFL (tᵗʰ = ' + datum.value + ' s)'"}}
    }},
   {"data": {"values": [{"x": 50}]}, "mark": {"type": "point", "opacity": 0},
    "encoding": {"x": {"field": "x", "type": "quantitative", "scale": {"domain": [20, 85], "nice": false, "zero": false}, "axis": {"orient": "top", "title": "CDF of Per PHFL Round Req. Bandwidh on cifar10 with resnet18", "labels": false, "ticks": false, "grid": false, "domain": false, "titleFontSize": 13.5, "titleColor": "#333", "titlePadding": 3}}}},
   {"data": {"values": [{"t": "×10⁶"}]}, "mark": {"type": "text", "align": "right", "baseline": "top", "dy": 21, "font": "DejaVu Sans", "fontWeight": "bold", "fontSize": 11, "color": "#111"},
    "encoding": {"x": {"datum": 85, "type": "quantitative", "axis": null}, "y": {"datum": -0.005, "type": "quantitative", "axis": null}, "text": {"field": "t"}}}
  ],
  "resolve": {"axis": {"x": "independent", "y": "independent"}}},
 {"width": 348, "height": 259, "title": {"text": "(f) Required bandwidth with ResNet-34"},
  "layer": [
   {"data": {"name": "f"}, "mark": {"type": "line", "strokeWidth": 1.8, "clip": true},
    "encoding": {
     "x": {"field": "x", "type": "quantitative", "scale": {"domain": [30, 150], "nice": false, "zero": false}, "axis": {"orient": "bottom", "values": [30,40.909,51.818,62.727,73.636,84.545,95.455,106.364,117.273,128.182,139.091,150], "format": ".1f", "title": "Bandwidth: [Hz]"}},
     "y": {"field": "v", "type": "quantitative", "scale": {"domain": [-0.005, 1.02], "nice": false, "zero": false}, "axis": {"values": [0,0.1,0.2,0.3,0.4,0.5,0.6,0.7,0.8,0.9,1.0], "format": ".1f", "title": "CDF"}},
     "color": {"field": "s", "type": "nominal", "scale": {"domain": ["6.00","8.00","10.00","N"], "range": ["#008080","#0000ff","#8b0000","#000000"]}, "legend": {"title": null, "orient": "bottom-right", "labelExpr": "datum.value == 'N' ? 'No-Pruning' : 'PHFL (tᵗʰ = ' + datum.value + ' s)'"}},
     "strokeDash": {"field": "s", "type": "nominal", "scale": {"domain": ["6.00","8.00","10.00","N"], "range": [[1,0],[1,0],[1,0],[7,3]]}, "legend": {"title": null, "orient": "bottom-right", "labelExpr": "datum.value == 'N' ? 'No-Pruning' : 'PHFL (tᵗʰ = ' + datum.value + ' s)'"}}
    }},
   {"data": {"values": [{"x": 90}]}, "mark": {"type": "point", "opacity": 0},
    "encoding": {"x": {"field": "x", "type": "quantitative", "scale": {"domain": [30, 150], "nice": false, "zero": false}, "axis": {"orient": "top", "title": "CDF of Per PHFL Round Req. Bandwidh on cifar10 with resnet34", "labels": false, "ticks": false, "grid": false, "domain": false, "titleFontSize": 13.5, "titleColor": "#333", "titlePadding": 3}}}},
   {"data": {"values": [{"t": "×10⁶"}]}, "mark": {"type": "text", "align": "right", "baseline": "top", "dy": 21, "font": "DejaVu Sans", "fontWeight": "bold", "fontSize": 11, "color": "#111"},
    "encoding": {"x": {"datum": 150, "type": "quantitative", "axis": null}, "y": {"datum": -0.005, "type": "quantitative", "axis": null}, "text": {"field": "t"}}}
  ],
  "resolve": {"axis": {"x": "independent", "y": "independent"}}}
]
}
